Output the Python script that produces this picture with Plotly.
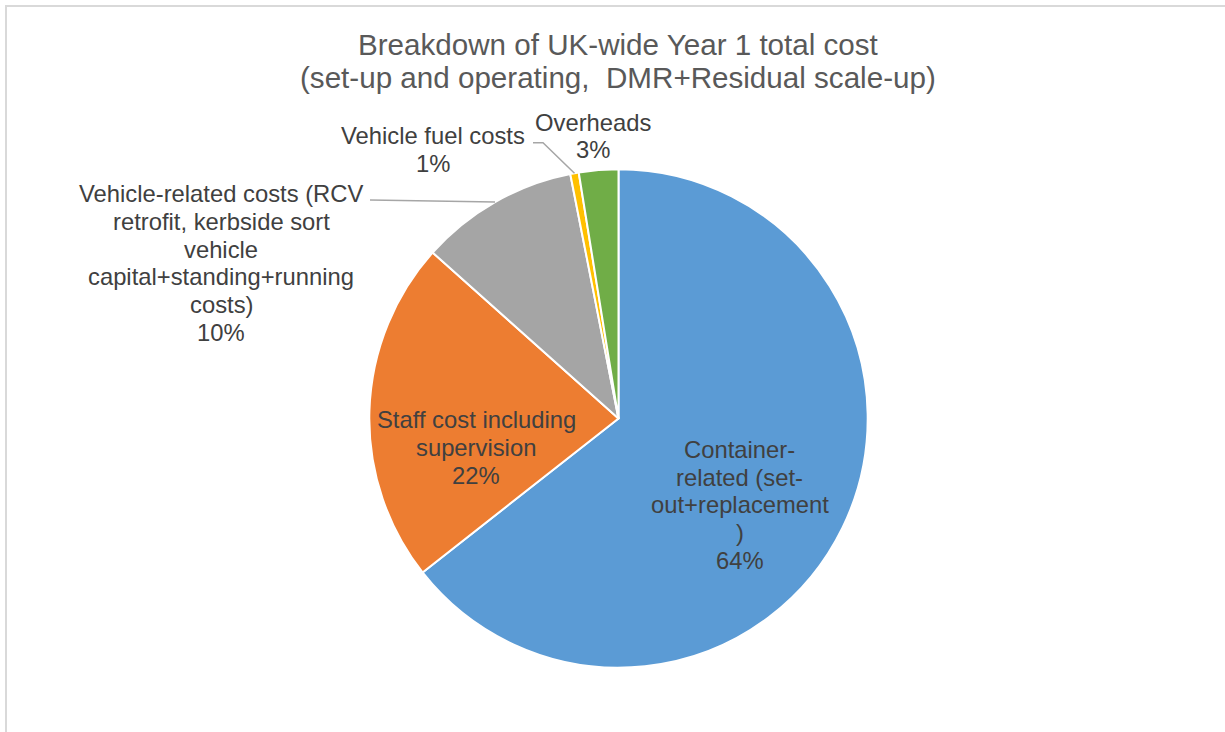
import math
import plotly.graph_objects as go

W, H = 1225, 732

# ---- data -------------------------------------------------------------
categories = [
    "Container-related (set-out+replacement)",
    "Staff cost including supervision",
    "Vehicle-related costs (RCV retrofit, kerbside sort vehicle capital+standing+running costs)",
    "Vehicle fuel costs",
    "Overheads",
]
shares = [64.4, 22.2, 10.3, 0.55, 2.55]
colors = ["#5B9BD5", "#ED7D31", "#A5A5A5", "#FFC000", "#70AD47"]

# category names as they are wrapped on the chart
label_lines = [
    ["Container-", "related (set-", "out+replacement", ")"],
    ["Staff cost including", "supervision"],
    ["Vehicle-related costs (RCV", "retrofit, kerbside sort", "vehicle",
     "capital+standing+running", "costs)"],
    ["Vehicle fuel costs"],
    ["Overheads"],
]
title_lines = [
    "Breakdown of UK-wide Year 1 total cost",
    "(set-up and operating,\u00a0 DMR+Residual scale-up)",
]

# ---- layout constants (pixels) ----------------------------------------
FONT = "Liberation Sans, Arial, sans-serif"
TITLE_SIZE, LABEL_SIZE = 29.6, 23.8
cx, cy, R = 618.5, 418.5, 249.2

# first-line baseline position (centre x, baseline y) and line pitch per label
label_pos = [(739.5, 456.7), (476, 426.0), (221, 200.7), (433.4, 142.3), (593, 129.3)]
line_gap = [27.6, 28.3, 27.7, 27.7, 27.4]
# elbow points of leader lines (label side); the end point sits on the slice edge
leader_pts = {2: [(370, 200.0)], 3: [(533, 142.7), (543, 142.7)]}


def px(x):
    return x / W


def py(y):
    return 1 - y / H


total = sum(shares)
fig = go.Figure()
fig.add_trace(go.Pie(
    labels=categories,
    values=shares,
    sort=False,
    direction="clockwise",
    rotation=0,
    marker=dict(colors=colors, line=dict(color="white", width=2)),
    textinfo="none",
    hoverinfo="label+percent",
    domain=dict(x=[px(cx - R), px(cx + R)], y=[py(cy + R), py(cy - R)]),
    showlegend=False,
))

annotations = []


def add_line(text, x, baseline, size, color):
    # annotation centred on the text box; shift baseline to box centre
    annotations.append(dict(
        text=text, x=px(x), y=py(baseline - 0.29 * size),
        xref="paper", yref="paper", xanchor="center", yanchor="middle",
        showarrow=False, borderpad=0,
        font=dict(family=FONT, size=size, color=color),
    ))


# title
for i, t in enumerate(title_lines):
    add_line(t, 617.5, 53.3 + 33 * i, TITLE_SIZE, "#595959")

# slice labels with percentages
shapes = []
cum = 0.0
for i, (lines, v) in enumerate(zip(label_lines, shares)):
    pct = v / total * 100
    text_lines = lines + [f"{int(pct + 0.5)}%"]
    x0, b0 = label_pos[i]
    for k, t in enumerate(text_lines):
        add_line(t, x0, b0 + line_gap[i] * k, LABEL_SIZE, "#404040")

    theta = 2 * math.pi * (cum + v / 2) / total
    if i in leader_pts:
        ex = cx + R * math.sin(theta)
        ey = cy - R * math.cos(theta)
        pts = leader_pts[i] + [(ex, ey)]
        path = "M " + " L ".join(f"{px(a):.5f},{py(b):.5f}" for a, b in pts)
        shapes.append(dict(type="path", path=path, xref="paper", yref="paper",
                           line=dict(color="#A6A6A6", width=1.5), layer="above"))
    cum += v

# chart area border
shapes.append(dict(type="rect", xref="paper", yref="paper",
                   x0=px(6), y0=py(6), x1=px(W + 20), y1=py(H + 20),
                   line=dict(color="#D9D9D9", width=2), layer="below"))

fig.update_layout(
    width=W, height=H,
    margin=dict(l=0, r=0, t=0, b=0),
    paper_bgcolor="white",
    plot_bgcolor="white",
    showlegend=False,
    annotations=annotations,
    shapes=shapes,
)

fig.write_html("out.html")
